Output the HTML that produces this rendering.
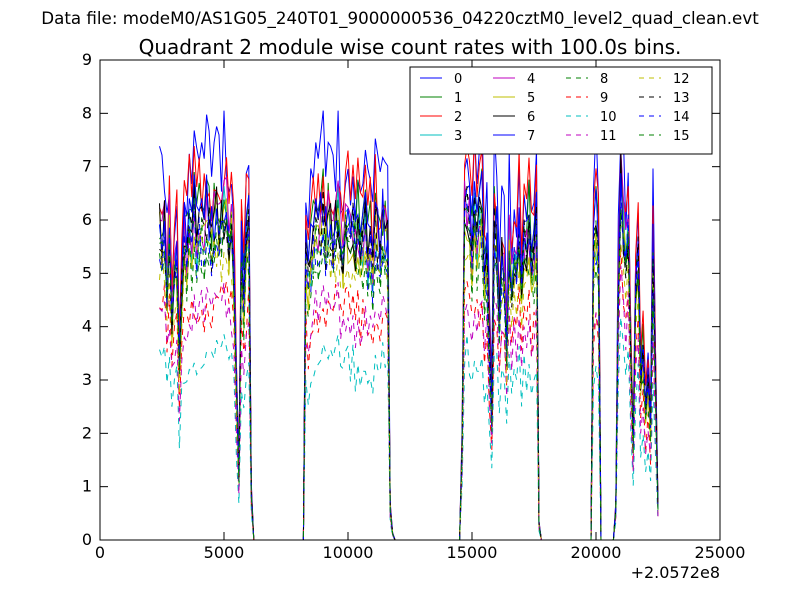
<!DOCTYPE html>
<html><head><meta charset="utf-8"><style>
body{margin:0;background:#fff;}
svg text{font-family:"DejaVu Sans","Liberation Sans",sans-serif;}
</style></head><body>
<svg id="chart" width="800" height="600" xmlns="http://www.w3.org/2000/svg">
<rect width="800" height="600" fill="#fff"/>
<text x="400" y="24" font-size="16.7" text-anchor="middle">Data file: modeM0/AS1G05_240T01_9000000536_04220cztM0_level2_quad_clean.evt</text>
<text x="410" y="54" font-size="20" text-anchor="middle">Quadrant 2 module wise count rates with 100.0s bins.</text>
<g id="series"></g>
<rect x="100" y="60" width="620" height="480" fill="none" stroke="#000" stroke-width="1"/>
<g id="axes"></g>
<text x="720" y="578" font-size="16" text-anchor="end">+2.0572e8</text>
<g id="legend"></g>
</svg>
<script>
const t0 = 2400, step = 100;
const baseProfile = [
1.0,0.95,1.0,0.8,1.0,0.7,0.85,0.9,0.55,0.8,0.95,0.9,1.0,0.95,1.05,0.95,1.0,1.0,0.95,1.05,1.0,0.95,1.0,1.05,1.0,1.0,1.05,1.05,0.95,1.0,0.85,0.5,0.2,0.9,0.75,0.95,1.0,
0.15,0,
0,0,0,0,0,0,0,0,0,0,0,0,0,0,0,0,0,0,0,0,
0.9,0.8,0.9,0.95,1.0,0.95,1.0,1.05,0.95,1.0,1.0,0.95,1.0,1.05,0.95,0.9,1.0,1.0,0.95,1.0,0.9,1.0,0.9,0.95,1.0,0.9,0.95,0.85,1.0,0.95,0.9,1.0,0.95,0.95,0.1,0.02,0,
0,0,0,0,0,0,0,0,0,0,0,0,0,0,0,0,0,0,0,0,0,0,0,0,0,0,
0.3,1.05,1.05,1.0,0.9,1.05,0.95,1.0,1.05,0.8,0.9,0.6,0.4,1.0,0.95,0.7,0.9,0.85,0.6,0.95,0.8,0.9,0.85,1.0,0.8,0.95,0.9,1.0,0.85,0.9,1.0,0.05,0,
0,0,0,0,0,0,0,0,0,0,0,0,0,0,0,0,0,0,0,0,
0.9,1.0,0.9,0,
0,0,0,0,0,
0.1,0.8,1.15,1.0,0.9,1.0,0.6,0.3,0.8,0.9,0.5,0.6,0.4,0.5,0.35,0.9,0.5,0.1];
const moduleLevels = [7.1,6.2,6.7,5.8,6.0,5.7,5.9,6.1,5.6,4.4,3.4,4.3,5.3,5.8,5.6,5.4];
const wiggle = [0.04,-0.06,0.08,-0.02,0.05,-0.09,0.03,0.07,-0.05,0.01,-0.07,0.06,-0.03,0.09,-0.08,0.02,0.05,-0.04,0.07,-0.06,0.0,0.08,-0.01];
const colors = ['#0000ff','#008000','#ff0000','#00bfbf','#bf00bf','#bfbf00','#000000'];
const xTicks = [0,5000,10000,15000,20000,25000];
const yTicks = [0,1,2,3,4,5,6,7,8,9];
const NS='http://www.w3.org/2000/svg';
const X = v => 100 + v/25000*620;
const Y = v => 540 - v/9*480;
const sg = document.getElementById('series');
for (let s=0;s<moduleLevels.length;s++){
  let d='';
  for (let i=0;i<baseProfile.length;i++){
    const b = baseProfile[i];
    let v = b*moduleLevels[s]*(1+ (b>0.3? wiggle[(i*7+s*5)%wiggle.length] : 0));
    d += (i?'L':'M')+X(t0+i*step).toFixed(1)+' '+Y(v).toFixed(1);
  }
  const p=document.createElementNS(NS,'path');
  p.setAttribute('d',d);p.setAttribute('fill','none');
  p.setAttribute('stroke',colors[s%7]);p.setAttribute('stroke-width','1');
  if(s>=8)p.setAttribute('stroke-dasharray','6,6');
  
  
  sg.appendChild(p);
}
const ax=document.getElementById('axes');
function ln(x1,y1,x2,y2){const l=document.createElementNS(NS,'line');l.setAttribute('x1',x1);l.setAttribute('y1',y1);l.setAttribute('x2',x2);l.setAttribute('y2',y2);l.setAttribute('stroke','#000');ax.appendChild(l);return l;}
function tx(x,y,str,anchor,g,name){const t=document.createElementNS(NS,'text');t.setAttribute('x',x);t.setAttribute('y',y);t.setAttribute('font-size','16');t.setAttribute('text-anchor',anchor);t.textContent=str;


(g||ax).appendChild(t);return t;}
xTicks.forEach(v=>{const x=X(v);ln(x,540,x,532);ln(x,60,x,68);tx(x,558,String(v),'middle',null,'x-tick-label');});
yTicks.forEach(v=>{const y=Y(v);ln(100,y,108,y);ln(720,y,712,y);tx(92,y+5,String(v),'end',null,'y-tick-label');});
const lg=document.getElementById('legend');
const box=document.createElementNS(NS,'rect');
box.setAttribute('x',410);box.setAttribute('y',67);box.setAttribute('width',302);box.setAttribute('height',87);
box.setAttribute('fill','#fff');box.setAttribute('stroke','#000');


lg.appendChild(box);
for(let s=0;s<16;s++){
  const c=Math.floor(s/4), r=s%4;
  const x=420+c*73, y=78+r*19;
  const l=document.createElementNS(NS,'line');
  l.setAttribute('x1',x);l.setAttribute('x2',x+22);l.setAttribute('y1',y);l.setAttribute('y2',y);
  l.setAttribute('stroke',colors[s%7]);
  if(s>=8)l.setAttribute('stroke-dasharray','5,5');
  
  
  lg.appendChild(l);
  const t=document.createElementNS(NS,'text');
  t.setAttribute('x',x+34);t.setAttribute('y',y+5);t.setAttribute('font-size','13');
  t.textContent=String(s);
  
  
  lg.appendChild(t);
}
</script>
</body></html>
